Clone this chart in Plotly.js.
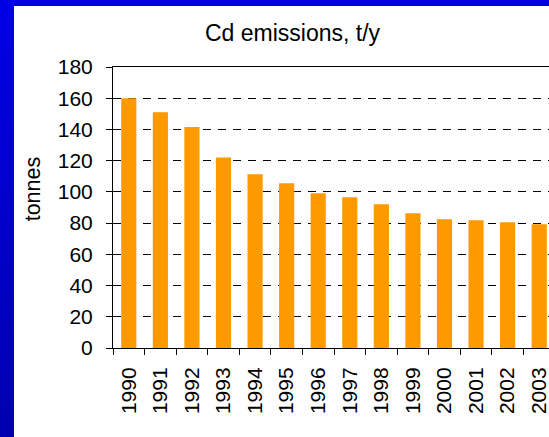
<!DOCTYPE html>
<html>
<head>
<meta charset="utf-8">
<script src="https://cdn.plot.ly/plotly-3.0.1.min.js"></script>
<style>
  html, body { margin: 0; padding: 0; width: 549px; height: 437px; overflow: hidden;
    background: linear-gradient(#0000E6, #0000B0); }
  #chart { position: absolute; left: 14px; top: 6px; width: 535px; height: 431px; }
</style>
</head>
<body>
<div id="chart"></div>
<script>
const years = ["1990","1991","1992","1993","1994","1995","1996","1997","1998","1999","2000","2001","2002","2003"];
const emissions = [160, 151, 141.5, 122, 111.3, 105.6, 99.2, 96.6, 92.1, 86.3, 82.5, 81.9, 80.6, 79.3];
const yTicks = [0, 20, 40, 60, 80, 100, 120, 140, 160, 180];

const font = "Liberation Sans, Arial, sans-serif";

const trace = {
  type: "bar",
  x: years,
  y: emissions,
  marker: { color: "#FF9900", line: { width: 0 } },
  hoverinfo: "x+y"
};

const layout = {
  width: 535, height: 431,
  margin: { l: 99.3, r: 0, t: 60.7, b: 89, pad: 0 },
  paper_bgcolor: "#FFFFFF",
  plot_bgcolor: "#FFFFFF",
  bargap: 0.52,
  showlegend: false,
  font: { family: font, color: "#000000", size: 21 },
  title: {
    text: "Cd emissions, t/y",
    font: { family: font, size: 23, color: "#000000" },
    xref: "container", yref: "container",
    x: 0.5206, y: 1 - 27/431, xanchor: "center", yanchor: "middle"
  },
  xaxis: {
    type: "category",
    range: [-0.5, 13.31],
    tickson: "boundaries",
    ticks: "outside", ticklen: 6, tickwidth: 1, tickcolor: "#000000",
    showline: true, linecolor: "#000000", linewidth: 1, mirror: true,
    showgrid: false,
    tickangle: -90,
    ticklabelstandoff: 10,
    tickfont: { family: font, size: 21, color: "#000000" }
  },
  yaxis: {
    range: [0, 180],
    tickvals: yTicks,
    ticks: "outside", ticklen: 6, tickwidth: 1, tickcolor: "#000000",
    showline: true, linecolor: "#000000", linewidth: 1,
    zeroline: false,
    showgrid: true, gridcolor: "#000000", gridwidth: 1, griddash: "8px,7px",
    ticklabelstandoff: 9,
    tickfont: { family: font, size: 21, color: "#000000" }
  },
  annotations: [{
    text: "tonnes",
    xref: "paper", yref: "paper",
    x: (33.5 - 113.3) / 435.7, y: (348 - 189) / 281.3,
    xanchor: "center", yanchor: "middle",
    textangle: -90, showarrow: false,
    font: { family: font, size: 21.5, color: "#000000" }
  }]
};

Plotly.newPlot("chart", [trace], layout, { displayModeBar: false, staticPlot: true });
</script>
</body>
</html>
